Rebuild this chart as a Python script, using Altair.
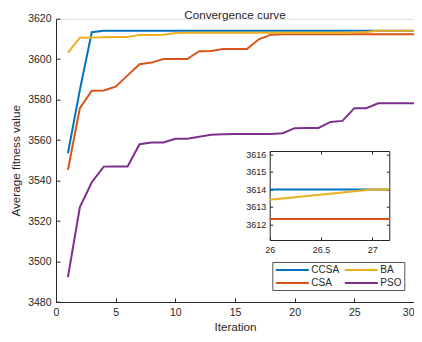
import altair as alt
import pandas as pd

# ---------------- data ----------------
iterations = list(range(1, 31))
ccsa = [3553.5, 3584.8, 3613.3] + [3614.0] * 27
csa = [3545.3, 3575.8, 3584.4, 3584.5, 3586.4, 3592.0, 3597.5, 3598.3, 3600.1,
       3600.1, 3600.1, 3603.9, 3604.0, 3605.0, 3605.0, 3605.0, 3609.8, 3612.1] + [3612.3] * 12
ba = [3603.2, 3610.6, 3610.7, 3610.8, 3610.9, 3611.0, 3612.0, 3612.0, 3612.1,
      3612.9] + [3613.0] * 14 + [3613.2, 3613.4, 3614.0, 3614.0, 3614.0, 3614.0]
pso = [3492.3, 3526.9, 3539.2, 3546.9, 3547.0, 3547.0, 3558.0, 3558.8, 3558.8,
       3560.7, 3560.7, 3561.7, 3562.7, 3562.9, 3563.0, 3563.0, 3563.0, 3563.0,
       3563.4, 3565.9, 3566.0, 3566.0, 3569.0, 3569.5, 3575.8, 3575.8, 3578.2,
       3578.2, 3578.2, 3578.2]

series_names = ["CCSA", "CSA", "BA", "PSO"]
series_colors = {"CCSA": "#0072BD", "CSA": "#D95319", "BA": "#EDB120", "PSO": "#7E2F8E"}

main_x_ticks = [0, 5, 10, 15, 20, 25, 30]
main_y_ticks = [3480, 3500, 3520, 3540, 3560, 3580, 3600, 3620]
inset_x_ticks = [26, 26.5, 27]
inset_y_ticks = [3612, 3613, 3614, 3615, 3616]

rows = []
for name, vals in zip(series_names, [ccsa, csa, ba, pso]):
    for it, v in zip(iterations, vals):
        rows.append({"series": name, "iter": it, "value": v})
df = pd.DataFrame(rows)

# ---------------- layout ----------------
W, H = 358, 283.3
INK = "#262626"
FONT = "Liberation Sans"

main_x = alt.Scale(domain=[0, 30], nice=False, zero=False)
main_y = alt.Scale(domain=[3480, 3620], nice=False, zero=False)

IX0, IX1 = 213.7, 333.3      # inset left / right (plot coords)
IY0, IY1 = 221.3, 132.3      # inset bottom / top (plot coords)
inset_x = alt.Scale(domain=[26, 27.166], range=[IX0, IX1], clamp=True, nice=False, zero=False)
inset_y = alt.Scale(domain=[3611.1, 3616.2], range=[IY0, IY1], clamp=True, nice=False, zero=False)

color_scale = alt.Scale(domain=series_names, range=[series_colors[s] for s in series_names])
legend = alt.Legend(
    orient="none", legendX=216.3, legendY=243.3, columns=2, title=None,
    symbolType="M-3.3,0H3.3", symbolSize=100, symbolStrokeWidth=2,
    symbolOffset=12, labelOffset=13,
    labelFontSize=10, labelColor=INK, labelFont=FONT,
    strokeColor="#555555", fillColor="white", padding=2, rowPadding=2,
    columnPadding=1,
)

base = alt.Chart(df)


def ax(**kw):
    d = dict(grid=False, title=None, labelFlush=False, labelOverlap=False,
             domainColor=INK, tickColor=INK, labelColor=INK, labelFont=FONT,
             domainWidth=1, tickWidth=1)
    d.update(kw)
    return alt.Axis(**d)


# main labelled axes (domain lines + labels)
main_axes = base.mark_point(opacity=0).encode(
    x=alt.X("iter:Q", scale=main_x, axis=ax(
        orient="bottom", values=main_x_ticks, ticks=False, tickSize=0, format="d",
        labelAlign=alt.ExprRef("datum.value == 30 ? 'right' : 'center'"),
        labelPadding=5, labelFontSize=10.5, title="Iteration", titleFontSize=11.7,
        titleFontWeight="normal", titleColor=INK, titleFont=FONT, titlePadding=4)),
    y=alt.Y("value:Q", scale=main_y, axis=ax(
        orient="left", values=main_y_ticks, ticks=False, tickSize=0, format="d",
        labelPadding=5, labelFontSize=10.5, title="Average fitness value",
        titleFontSize=11.7, titleFontWeight="normal", titleColor=INK,
        titleFont=FONT, titlePadding=6)),
)

# main inward ticks
main_ticks = base.mark_point(opacity=0).encode(
    x=alt.X("iter:Q", scale=main_x, axis=ax(
        orient="top", offset=-H, values=main_x_ticks, domain=False, labels=False,
        tickSize=4)),
    y=alt.Y("value:Q", scale=main_y, axis=ax(
        orient="right", offset=-W, values=main_y_ticks, domain=False, labels=False,
        tickSize=4)),
)


def main_line(name):
    return base.transform_filter(alt.datum.series == name).mark_line(strokeWidth=2).encode(
        x=alt.X("iter:Q", scale=main_x, axis=None),
        y=alt.Y("value:Q", scale=main_y, axis=None),
        color=alt.Color("series:N", scale=color_scale, legend=legend),
    )


def inset_line(name):
    return base.transform_filter(
        (alt.datum.series == name) & (alt.datum.iter >= 26)
    ).mark_line(strokeWidth=2).encode(
        x=alt.X("iter:Q", scale=inset_x, axis=None),
        y=alt.Y("value:Q", scale=inset_y, axis=None),
        color=alt.Color("series:N", scale=color_scale, legend=legend),
    )


inset_base = base.transform_filter((alt.datum.series == "CCSA") & (alt.datum.iter >= 26))

inset_labels = inset_base.mark_point(opacity=0).encode(
    x=alt.X("iter:Q", scale=inset_x, axis=ax(
        orient="bottom", offset=IY0 - H, values=inset_x_ticks, domain=False,
        ticks=False, tickSize=0, labelPadding=5, labelFontSize=9, format="~g")),
    y=alt.Y("value:Q", scale=inset_y, axis=ax(
        orient="left", offset=-IX0, values=inset_y_ticks, domain=False,
        ticks=False, tickSize=0, labelPadding=4, labelFontSize=9, format="d")),
)

inset_edges_a = inset_base.mark_point(opacity=0).encode(
    x=alt.X("iter:Q", scale=inset_x, axis=ax(
        orient="top", offset=-IY0, values=inset_x_ticks, labels=False, tickSize=3)),
    y=alt.Y("value:Q", scale=inset_y, axis=ax(
        orient="right", offset=IX0 - W, values=inset_y_ticks, labels=False, tickSize=3)),
)

inset_edges_b = inset_base.mark_point(opacity=0).encode(
    x=alt.X("iter:Q", scale=inset_x, axis=ax(
        orient="bottom", offset=IY1 - H, values=inset_x_ticks, labels=False, tickSize=3)),
    y=alt.Y("value:Q", scale=inset_y, axis=ax(
        orient="left", offset=-IX1, values=inset_y_ticks, labels=False, tickSize=3)),
)

chart = alt.layer(
    main_axes, main_ticks,
    main_line("CCSA"), main_line("CSA"), main_line("BA"), main_line("PSO"),
    inset_line("CCSA"), inset_line("CSA"), inset_line("BA"),
    inset_labels, inset_edges_a, inset_edges_b,
).resolve_scale(
    x="independent", y="independent"
).resolve_axis(
    x="independent", y="independent"
).properties(
    width=W, height=H,
    title=alt.TitleParams("Convergence curve", fontSize=11.7, fontWeight="normal",
                          color=INK, font=FONT, anchor="middle", offset=-7.5),
    autosize=alt.AutoSizeParams(type="none"),
    padding={"left": 48, "top": 10.7, "right": 0, "bottom": 32},
).configure_view(stroke=None).configure(font=FONT)

chart.save("out.html", embed_options={"renderer": "svg", "actions": False})
